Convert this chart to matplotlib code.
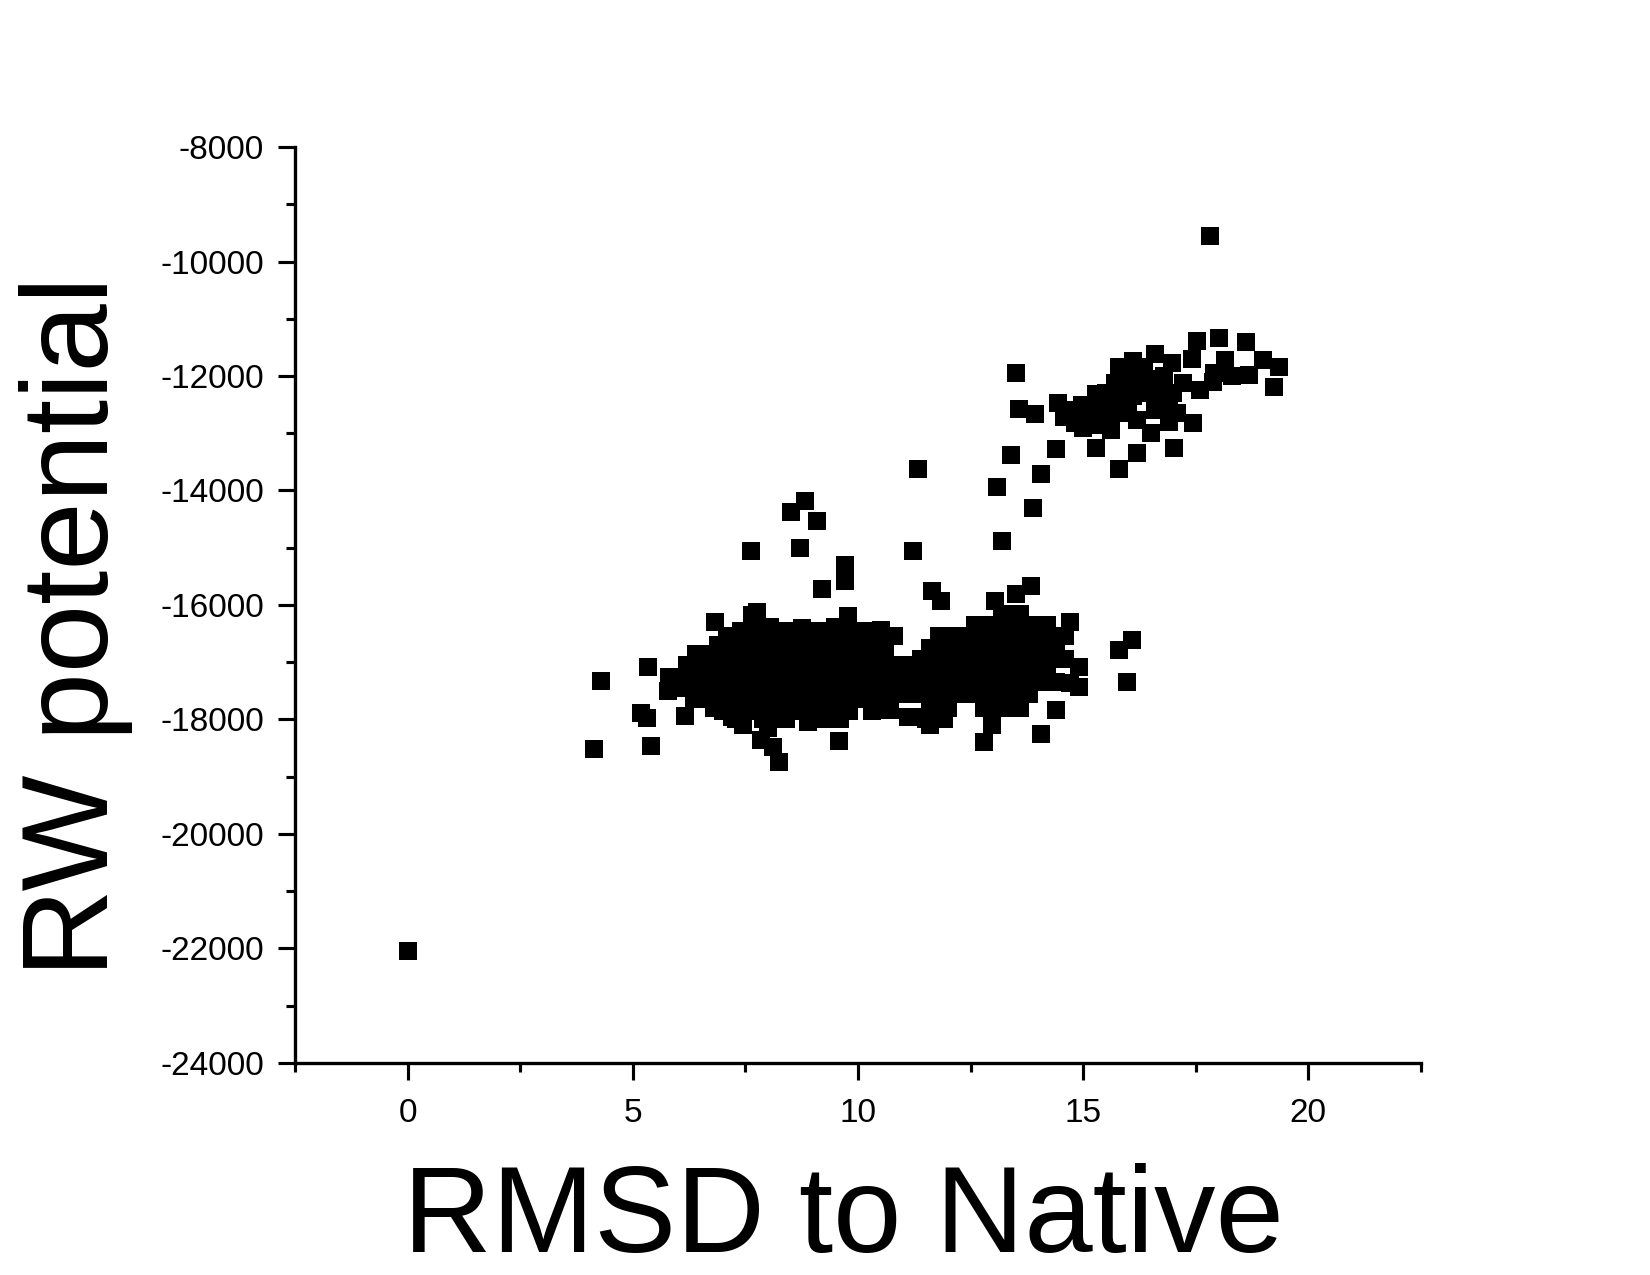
import matplotlib
matplotlib.use("Agg")
import matplotlib.pyplot as plt
from matplotlib.ticker import MultipleLocator

plt.rcParams['font.family'] = ['Liberation Sans', 'DejaVu Sans']
plt.rcParams['axes.unicode_minus'] = False

# isolated / sparse decoys
sparse_x = [0.0, 17.83, 4.13, 4.28, 5.33, 5.19, 5.32, 5.41, 5.77, 5.82, 6.16, 6.83,
            7.65, 7.75, 7.63, 8.72, 8.83, 8.52, 9.10, 9.21, 9.72, 9.72, 9.78, 11.22,
            11.34, 11.65, 11.85, 13.40, 13.09, 13.89, 13.20, 13.84, 13.50, 13.04, 14.71,
            16.09, 15.79, 15.97, 14.91, 14.72, 14.91, 14.39, 14.06, 12.80, 12.97, 8.25,
            8.12, 9.58, 7.44, 7.85, 10.70, 11.10]
sparse_y = [-22050, -9560, -18510, -17320, -17090, -17880, -17970, -18470, -17510, -17325,
            -17940, -16300, -16170, -16120, -15050, -15000, -14175, -14367, -14525, -15712,
            -15310, -15580, -16200, -15050, -13630, -15750, -15925, -13380, -13940, -14310,
            -14890, -15670, -15800, -15925, -16300, -16620, -16780, -17350, -17090, -17370,
            -17430, -17840, -18250, -18400, -18090, -18740, -18480, -18370, -18100, -18350,
            -17840, -17960]

# upper right group
high_x = [13.51, 13.57, 13.93, 14.39, 14.06, 15.28, 15.79, 16.19, 17.03, 17.45, 14.44,
          14.82, 19.25, 19.36, 19.00, 18.61, 18.03, 17.54, 17.43, 17.88, 18.68, 18.15,
          16.59, 16.10, 16.97, 17.21, 15.70, 15.29, 14.97, 16.42, 16.79, 17.09, 16.20,
          15.46, 15.61, 16.50, 14.57, 16.00, 16.30, 15.90, 16.60, 15.20, 16.80, 16.35,
          15.00, 15.40, 16.90, 17.60, 18.30, 15.80, 16.70, 17.90,
          15.50, 15.80, 16.10, 16.40, 15.10, 14.70, 15.30, 16.00, 16.60, 17.00, 16.20,
          15.95, 14.90, 15.60, 16.90]
high_y = [-11950, -12580, -12670, -13280, -13710, -13260, -13630, -13350, -13260, -12820,
          -12480, -12820, -12200, -11850, -11720, -11410, -11340, -11380, -11710, -12110,
          -11980, -11720, -11610, -11740, -11780, -12130, -12130, -12320, -12510, -12300,
          -12480, -12650, -12770, -12600, -12950, -13000, -12710, -12000, -12150, -12400,
          -12600, -12750, -12000, -11900, -12900, -12450, -12800, -12250, -12000, -11850,
          -12250, -11950,
          -12300, -12550, -12350, -12050, -12600, -12600, -12850, -12650, -12400, -12300,
          -11850, -12200, -12700, -12750, -12550]

# dense group around RMSD 6-11
mid_x = [7.4, 7.8, 8.2, 8.6, 9.0, 9.4, 9.8, 10.2,
         7.2, 7.6, 8.0, 8.4, 8.8, 9.2, 9.6, 10.0, 10.4,
         6.6, 7.0, 7.4, 7.8, 8.2, 8.6, 9.0, 9.4, 9.8, 10.2, 10.6,
         6.2, 6.6, 7.0, 7.4, 7.8, 8.2, 8.6, 9.0, 9.4, 9.8, 10.2, 10.6, 11.0,
         5.8, 6.2, 6.6, 7.0, 7.4, 7.8, 8.2, 8.6, 9.0, 9.4, 9.8, 10.2, 10.6, 11.0,
         6.0, 6.4, 6.8, 7.2, 7.6, 8.0, 8.4, 8.8, 9.2, 9.6, 10.0, 10.4, 10.8,
         6.6, 7.0, 7.4, 7.8, 8.2, 8.6, 9.0, 9.4, 9.8, 10.2, 10.6,
         7.0, 7.4, 7.8, 8.2, 8.6, 9.0, 9.4, 9.8,
         7.3, 7.9, 8.4, 9.1, 9.6]
mid_y = [-16450] * 8 + [-16650] * 9 + [-16850] * 11 + [-17050] * 13 + [-17250] * 14 \
    + [-17450] * 13 + [-17650] * 11 + [-17850] * 8 + [-18000] * 5

# ragged edges of that group
edge_x = [7.1, 8.05, 8.75, 9.5, 10.5, 10.8, 6.9, 6.4,
          6.8, 7.2, 8.0, 8.9, 9.3, 10.3, 6.35, 11.3, 11.6]
edge_y = [-16550, -16380, -16400, -16380, -16430, -16550, -16700, -16850,
          -17800, -17950, -18150, -18050, -18000, -17850, -17650, -17950, -18100]

# dense group around RMSD 11-15
right_x = [13.2, 13.6,
           12.6, 13.0, 13.4, 13.8, 14.2,
           11.8, 12.2, 12.6, 13.0, 13.4, 13.8, 14.2, 14.6,
           11.6, 12.0, 12.4, 12.8, 13.2, 13.6, 14.0, 14.4,
           11.4, 11.8, 12.2, 12.6, 13.0, 13.4, 13.8, 14.2, 14.6,
           11.4, 11.8, 12.2, 12.6, 13.0, 13.4, 13.8, 14.2,
           11.2, 11.6, 12.0, 12.4, 12.8, 13.2, 13.6, 14.0, 14.4,
           11.0, 11.4, 11.8, 12.2, 12.6, 13.0, 13.4, 13.8,
           11.6, 12.0, 12.8, 13.2, 13.6,
           11.5, 11.9]
right_y = [-16150] * 2 + [-16350] * 5 + [-16550] * 8 + [-16750] * 8 + [-16950] * 9 \
    + [-17150] * 8 + [-17350] * 9 + [-17550] * 8 + [-17800] * 5 + [-18000] * 2

xs = sparse_x + high_x + mid_x + edge_x + right_x
ys = sparse_y + high_y + mid_y + edge_y + right_y

fig = plt.figure(figsize=(11, 8.5), dpi=150)
ax = fig.add_axes([0.179, 0.1663, 0.682, 0.7184])
ax.scatter(xs, ys, marker='s', s=83, color='black', linewidths=0)

ax.set_xlim(-2.5, 22.5)
ax.set_ylim(-24000, -8000)
ax.xaxis.set_major_locator(MultipleLocator(5))
ax.xaxis.set_minor_locator(MultipleLocator(2.5))
ax.yaxis.set_major_locator(MultipleLocator(2000))
ax.yaxis.set_minor_locator(MultipleLocator(1000))

for side in ['top', 'right']:
    ax.spines[side].set_visible(False)
for side in ['left', 'bottom']:
    ax.spines[side].set_linewidth(1.6)
ax.tick_params(which='major', direction='out', length=8, width=1.5, labelsize=16, pad=7)
ax.tick_params(which='minor', direction='out', length=4.5, width=1.5)
ax.tick_params(axis='x', which='major', pad=9)

fig.text(0.511, 0.018, 'RMSD to Native', fontsize=59, ha='center', va='baseline')
fig.text(0.046, 0.509, 'RW potential', fontsize=59, rotation=90, ha='center', va='center')

fig.savefig('out.png', dpi=150)
